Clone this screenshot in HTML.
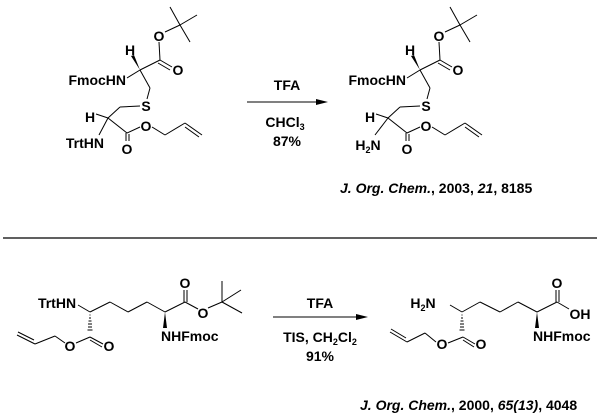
<!DOCTYPE html>
<html><head><style>body{margin:0;background:#fff}svg{display:block}text{font-family:"Liberation Sans",Arial,sans-serif;font-weight:bold;font-size:14px;fill:#000}</style></head>
<body>
<svg width="601" height="416" viewBox="0 0 601 416" xmlns="http://www.w3.org/2000/svg">
<defs>
<g id="top">
  <g stroke="#000" stroke-width="1" fill="none">
    <line x1="180" y1="25" x2="170" y2="7"/><line x1="180" y1="25" x2="197" y2="15"/><line x1="180" y1="25" x2="190" y2="42"/>
    <line x1="165" y1="32" x2="180" y2="25"/>
    <line x1="159" y1="42" x2="160" y2="60"/>
    <line x1="160" y1="60" x2="172" y2="67"/><line x1="158" y1="63" x2="170" y2="70"/>
    <line x1="160" y1="60" x2="140" y2="70"/>
    <line x1="140" y1="70" x2="127" y2="78"/>
    <line x1="140" y1="70" x2="150" y2="88"/>
    <line x1="150" y1="88" x2="147" y2="99"/>
    <line x1="140" y1="106" x2="120" y2="107"/>
    <line x1="120" y1="107" x2="108" y2="118"/>
    <line x1="108" y1="118" x2="96" y2="114"/>
    <line x1="108" y1="118" x2="127" y2="133"/>
    <line x1="127" y1="133" x2="140" y2="127"/>
    <line x1="126" y1="133" x2="126" y2="141"/><line x1="129" y1="134" x2="129" y2="141"/>
    <line x1="152" y1="127" x2="165" y2="135"/>
    <line x1="165" y1="135" x2="185" y2="123"/>
    <line x1="185" y1="123" x2="202" y2="135"/><line x1="185" y1="127" x2="199" y2="137"/>
  </g>
  <polygon points="140,70 131,56 134,55" fill="#000"/>
  <text x="159" y="41" text-anchor="middle">O</text>
  <text x="178" y="75" text-anchor="middle">O</text>
  <text x="130" y="55" text-anchor="middle">H</text>
  <text x="146" y="111" text-anchor="middle">S</text>
  <text x="90" y="122" text-anchor="middle">H</text>
  <text x="146" y="131" text-anchor="middle">O</text>
  <text x="127" y="154" text-anchor="middle">O</text>
  <text x="126" y="85" text-anchor="end">FmocHN</text>
</g>
</defs>
<use href="#top"/>
<line x1="108" y1="118" x2="99" y2="135" stroke="#000"/>
<text x="104" y="148" text-anchor="end">TrtHN</text>
<g transform="translate(280,0)">
<use href="#top"/>
<line x1="108" y1="118" x2="95" y2="135" stroke="#000"/>
<text x="88" y="150" text-anchor="middle">H<tspan font-size="9" dy="3">2</tspan><tspan dy="-3">N</tspan></text>
</g>
<line x1="247" y1="102" x2="320" y2="102" stroke="#000"/>
<polygon points="316,99 328,102 316,105" fill="#000"/>
<text x="287" y="90" text-anchor="middle">TFA</text>
<text x="285" y="127" text-anchor="middle">CHCl<tspan font-size="9" dy="3">3</tspan></text>
<text x="287" y="146" text-anchor="middle">87%</text>
<text x="340" y="193"><tspan font-style="italic">J. Org. Chem.</tspan>, 2003, <tspan font-style="italic">21</tspan>, 8185</text>
<line x1="3" y1="238" x2="597" y2="238" stroke="#000" stroke-width="1.3"/>
<g stroke="#000" fill="none">
  <line x1="78" y1="305" x2="90" y2="312"/>
  <line x1="90" y1="312" x2="110" y2="302"/><line x1="110" y1="302" x2="128" y2="312"/><line x1="128" y1="312" x2="147" y2="302"/><line x1="147" y1="302" x2="165" y2="312"/>
  <line x1="165" y1="312" x2="185" y2="302"/>
  <line x1="184" y1="302" x2="184" y2="290"/><line x1="187" y1="302" x2="187" y2="290"/>
  <line x1="185" y1="302" x2="198" y2="309"/>
  <line x1="208" y1="308" x2="222" y2="302"/>
  <line x1="222" y1="302" x2="222" y2="281"/><line x1="222" y1="302" x2="241" y2="290"/><line x1="222" y1="302" x2="242" y2="313"/>
  <line x1="90" y1="337" x2="103" y2="344"/><line x1="90" y1="340" x2="102" y2="347"/>
  <line x1="90" y1="337" x2="76" y2="343"/>
  <line x1="65" y1="343" x2="55" y2="336"/>
  <line x1="55" y1="336" x2="35" y2="344"/>
  <line x1="35" y1="344" x2="17" y2="335"/><line x1="34" y1="340" x2="18" y2="332"/>
</g>
<g stroke="#000" stroke-width="1">
  <line x1="89.5" y1="315" x2="90.5" y2="315"/><line x1="89" y1="318" x2="91" y2="318"/><line x1="88.5" y1="321" x2="91.5" y2="321"/><line x1="88" y1="324" x2="92" y2="324"/><line x1="88" y1="327" x2="92" y2="327"/><line x1="87.5" y1="330" x2="92.5" y2="330"/>
</g>
<polygon points="165,312 163,328 167,328" fill="#000"/>
<text x="57" y="308" text-anchor="middle">TrtHN</text>
<text x="185" y="288" text-anchor="middle">O</text>
<text x="203" y="318" text-anchor="middle">O</text>
<text x="109" y="351" text-anchor="middle">O</text>
<text x="70" y="351" text-anchor="middle">O</text>
<text x="161" y="341">NHFmoc</text>
<line x1="273" y1="317" x2="360" y2="317" stroke="#000"/>
<polygon points="356,314 368,317 356,320" fill="#000"/>
<text x="320" y="308" text-anchor="middle">TFA</text>
<text x="320" y="342" text-anchor="middle">TIS, CH<tspan font-size="9" dy="3">2</tspan><tspan dy="-3">Cl</tspan><tspan font-size="9" dy="3">2</tspan></text>
<text x="320" y="361" text-anchor="middle">91%</text>
<g stroke="#000" fill="none">
  <line x1="450" y1="305" x2="462" y2="312"/>
  <line x1="462" y1="312" x2="480" y2="302"/><line x1="480" y1="302" x2="500" y2="312"/><line x1="500" y1="312" x2="518" y2="302"/><line x1="518" y1="302" x2="537" y2="312"/>
  <line x1="537" y1="312" x2="557" y2="302"/>
  <line x1="556" y1="302" x2="556" y2="290"/><line x1="559" y1="302" x2="559" y2="290"/>
  <line x1="557" y1="302" x2="569" y2="309"/>
  <line x1="463" y1="337" x2="475" y2="344"/><line x1="463" y1="340" x2="474" y2="347"/>
  <line x1="463" y1="337" x2="448" y2="343"/>
  <line x1="436" y1="342" x2="425" y2="333"/>
  <line x1="425" y1="333" x2="407" y2="342"/>
  <line x1="407" y1="342" x2="390" y2="332"/><line x1="406" y1="338" x2="391" y2="329"/>
</g>
<g stroke="#000">
  <line x1="461.5" y1="315" x2="462.5" y2="315"/><line x1="461" y1="318" x2="463" y2="318"/><line x1="460.5" y1="321" x2="463.5" y2="321"/><line x1="460" y1="324" x2="464" y2="324"/><line x1="460" y1="327" x2="464" y2="327"/><line x1="459.5" y1="330" x2="464.5" y2="330"/>
</g>
<polygon points="537,312 535,328 539,328" fill="#000"/>
<text x="423" y="308" text-anchor="middle">H<tspan font-size="9" dy="3">2</tspan><tspan dy="-3">N</tspan></text>
<text x="557" y="288" text-anchor="middle">O</text>
<text x="580" y="319" text-anchor="middle">OH</text>
<text x="481" y="349" text-anchor="middle">O</text>
<text x="442" y="349" text-anchor="middle">O</text>
<text x="533" y="341">NHFmoc</text>
<text x="360" y="410"><tspan font-style="italic">J. Org. Chem.</tspan>, 2000, <tspan font-style="italic">65(13)</tspan>, 4048</text>
</svg>
</body></html>
